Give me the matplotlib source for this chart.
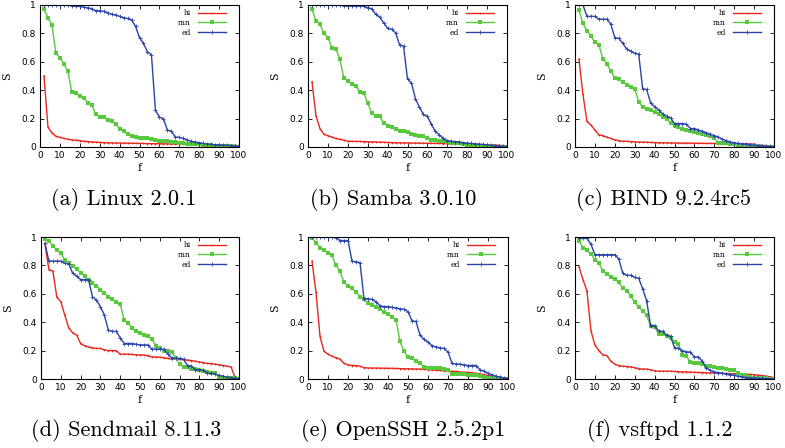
import numpy as np
import matplotlib.pyplot as plt

f = list(range(2, 101, 2))

linux_hi = [0.50, 0.14, 0.10, 0.075, 0.068, 0.06, 0.055, 0.05, 0.048, 0.045,
            0.04, 0.038, 0.036, 0.034, 0.032, 0.03, 0.03, 0.029, 0.028, 0.028,
            0.027, 0.027, 0.026, 0.026, 0.025, 0.025, 0.024, 0.024, 0.023, 0.023,
            0.022, 0.022, 0.021, 0.021, 0.02, 0.02, 0.019, 0.019, 0.018, 0.018,
            0.017, 0.017, 0.016, 0.016, 0.015, 0.015, 0.014, 0.013, 0.012, 0.01]
linux_ran = [0.97, 0.91, 0.86, 0.66, 0.63, 0.585, 0.535, 0.385, 0.38, 0.36,
             0.345, 0.31, 0.295, 0.23, 0.21, 0.21, 0.19, 0.18, 0.16, 0.13,
             0.11, 0.09, 0.075, 0.07, 0.065, 0.065, 0.06, 0.055, 0.05, 0.045,
             0.042, 0.04, 0.036, 0.033, 0.03, 0.027, 0.024, 0.022, 0.02, 0.018,
             0.016, 0.014, 0.012, 0.01, 0.009, 0.008, 0.006, 0.004, 0.002, 0.0]
linux_ed = [1.0, 1.0, 1.0, 1.0, 1.0, 1.0, 1.0, 0.995, 0.99, 0.99,
            0.985, 0.98, 0.975, 0.96, 0.96, 0.955, 0.945, 0.935, 0.93, 0.92,
            0.91, 0.905, 0.895, 0.85, 0.77, 0.73, 0.67, 0.65, 0.26, 0.21,
            0.20, 0.12, 0.11, 0.07, 0.068, 0.06, 0.05, 0.04, 0.035, 0.03,
            0.025, 0.02, 0.018, 0.016, 0.015, 0.014, 0.012, 0.01, 0.008, 0.005]

samba_hi = [0.46, 0.22, 0.13, 0.09, 0.08, 0.07, 0.06, 0.055, 0.048, 0.04,
            0.04, 0.04, 0.039, 0.038, 0.037, 0.036, 0.035, 0.034, 0.033, 0.032,
            0.031, 0.03, 0.03, 0.029, 0.029, 0.028, 0.028, 0.027, 0.027, 0.026,
            0.026, 0.025, 0.025, 0.024, 0.024, 0.023, 0.022, 0.022, 0.021, 0.02,
            0.02, 0.019, 0.018, 0.017, 0.016, 0.015, 0.014, 0.012, 0.01, 0.008]
samba_ran = [0.97, 0.89, 0.865, 0.80, 0.77, 0.70, 0.69, 0.62, 0.485, 0.465,
             0.445, 0.43, 0.39, 0.38, 0.31, 0.24, 0.22, 0.215, 0.17, 0.15,
             0.14, 0.13, 0.115, 0.115, 0.105, 0.095, 0.085, 0.08, 0.075, 0.06,
             0.05, 0.05, 0.045, 0.04, 0.035, 0.03, 0.028, 0.025, 0.02, 0.015,
             0.012, 0.01, 0.008, 0.006, 0.005, 0.004, 0.003, 0.002, 0.001, 0.0]
samba_ed = [1.0, 1.0, 1.0, 1.0, 1.0, 1.0, 1.0, 1.0, 0.995, 0.995,
            0.995, 0.995, 0.995, 0.99, 0.98, 0.975, 0.935, 0.915, 0.875, 0.835,
            0.83, 0.805, 0.72, 0.71, 0.48, 0.45, 0.34, 0.28, 0.23, 0.215,
            0.16, 0.11, 0.085, 0.06, 0.045, 0.04, 0.038, 0.035, 0.03, 0.027,
            0.025, 0.022, 0.02, 0.018, 0.015, 0.012, 0.01, 0.008, 0.005, 0.003]

bind_hi = [0.62, 0.37, 0.18, 0.155, 0.12, 0.085, 0.08, 0.07, 0.06, 0.05,
           0.045, 0.04, 0.04, 0.038, 0.036, 0.035, 0.034, 0.033, 0.032, 0.031,
           0.03, 0.03, 0.029, 0.029, 0.028, 0.028, 0.027, 0.027, 0.027, 0.026,
           0.026, 0.026, 0.025, 0.025, 0.025, 0.024, 0.024, 0.024, 0.023, 0.023,
           0.023, 0.022, 0.022, 0.022, 0.02, 0.015, 0.012, 0.01, 0.008, 0.006]
bind_ran = [0.965, 0.87, 0.82, 0.78, 0.74, 0.72, 0.62, 0.585, 0.535, 0.485,
            0.48, 0.455, 0.44, 0.425, 0.41, 0.32, 0.28, 0.27, 0.26, 0.245,
            0.235, 0.21, 0.2, 0.17, 0.15, 0.14, 0.125, 0.118, 0.115, 0.108,
            0.1, 0.095, 0.088, 0.077, 0.063, 0.03, 0.028, 0.026, 0.024, 0.02,
            0.015, 0.01, 0.008, 0.006, 0.005, 0.004, 0.003, 0.002, 0.001, 0.0]
bind_ed = [1.0, 1.0, 0.92, 0.92, 0.92, 0.90, 0.90, 0.90, 0.865, 0.77,
           0.765, 0.73, 0.69, 0.675, 0.66, 0.655, 0.41, 0.405, 0.31, 0.285,
           0.26, 0.235, 0.215, 0.205, 0.165, 0.165, 0.165, 0.16, 0.13, 0.13,
           0.12, 0.11, 0.1, 0.09, 0.08, 0.07, 0.055, 0.045, 0.035, 0.03,
           0.025, 0.022, 0.02, 0.015, 0.012, 0.01, 0.008, 0.006, 0.004, 0.002]

sendmail_hi = [0.95, 0.77, 0.76, 0.575, 0.545, 0.45, 0.36, 0.325, 0.31, 0.25,
               0.235, 0.225, 0.22, 0.215, 0.215, 0.205, 0.2, 0.2, 0.2, 0.175,
               0.175, 0.175, 0.173, 0.17, 0.17, 0.168, 0.165, 0.155, 0.155, 0.153,
               0.15, 0.145, 0.14, 0.14, 0.138, 0.135, 0.133, 0.13, 0.125, 0.12,
               0.115, 0.11, 0.108, 0.105, 0.1, 0.095, 0.09, 0.085, 0.01, 0.005]
sendmail_ran = [0.985, 0.975, 0.935, 0.91, 0.885, 0.84, 0.82, 0.795, 0.775, 0.75,
                0.725, 0.70, 0.675, 0.655, 0.63, 0.605, 0.58, 0.56, 0.545, 0.53,
                0.415, 0.395, 0.36, 0.34, 0.325, 0.31, 0.30, 0.28, 0.235, 0.215,
                0.2, 0.2, 0.19, 0.15, 0.105, 0.085, 0.085, 0.07, 0.07, 0.065,
                0.055, 0.05, 0.045, 0.04, 0.01, 0.01, 0.01, 0.008, 0.005, 0.0]
sendmail_ed = [0.955, 0.83, 0.83, 0.83, 0.83, 0.815, 0.81, 0.745, 0.725, 0.70,
               0.70, 0.70, 0.58, 0.555, 0.51, 0.45, 0.345, 0.335, 0.335, 0.29,
               0.25, 0.25, 0.25, 0.245, 0.24, 0.24, 0.24, 0.21, 0.21, 0.21,
               0.21, 0.175, 0.15, 0.145, 0.145, 0.14, 0.095, 0.09, 0.065, 0.065,
               0.06, 0.04, 0.04, 0.035, 0.025, 0.02, 0.012, 0.01, 0.005, 0.003]

openssh_hi = [0.83, 0.61, 0.30, 0.195, 0.175, 0.16, 0.15, 0.14, 0.11, 0.10,
              0.095, 0.095, 0.09, 0.08, 0.078, 0.077, 0.077, 0.076, 0.076, 0.075,
              0.075, 0.074, 0.073, 0.072, 0.072, 0.071, 0.07, 0.07, 0.068, 0.066,
              0.064, 0.062, 0.06, 0.058, 0.056, 0.054, 0.053, 0.05, 0.048, 0.046,
              0.044, 0.04, 0.035, 0.03, 0.025, 0.02, 0.016, 0.012, 0.008, 0.005]
openssh_ran = [0.995, 0.96, 0.925, 0.905, 0.885, 0.87, 0.80, 0.76, 0.68, 0.655,
               0.64, 0.61, 0.58, 0.56, 0.535, 0.52, 0.505, 0.495, 0.475, 0.455,
               0.435, 0.415, 0.265, 0.195, 0.155, 0.145, 0.125, 0.115, 0.085, 0.08,
               0.08, 0.08, 0.075, 0.07, 0.065, 0.035, 0.035, 0.035, 0.035, 0.03,
               0.025, 0.025, 0.02, 0.015, 0.01, 0.008, 0.006, 0.004, 0.002, 0.0]
openssh_ed = [1.0, 1.0, 1.0, 1.0, 1.0, 1.0, 0.995, 0.975, 0.975, 0.975,
              0.83, 0.825, 0.82, 0.565, 0.565, 0.56, 0.545, 0.515, 0.51, 0.51,
              0.505, 0.5, 0.495, 0.49, 0.475, 0.41, 0.405, 0.31, 0.28, 0.26,
              0.235, 0.225, 0.22, 0.215, 0.19, 0.11, 0.105, 0.105, 0.1, 0.095,
              0.095, 0.095, 0.065, 0.055, 0.04, 0.03, 0.02, 0.013, 0.008, 0.003]

vsftpd_hi = [0.79, 0.70, 0.62, 0.34, 0.24, 0.20, 0.17, 0.165, 0.125, 0.105,
             0.095, 0.09, 0.088, 0.085, 0.08, 0.072, 0.07, 0.07, 0.065, 0.058,
             0.055, 0.055, 0.055, 0.055, 0.053, 0.052, 0.05, 0.05, 0.048, 0.047,
             0.046, 0.045, 0.044, 0.043, 0.042, 0.041, 0.04, 0.039, 0.038, 0.037,
             0.036, 0.035, 0.033, 0.032, 0.03, 0.027, 0.024, 0.02, 0.015, 0.01]
vsftpd_ran = [0.975, 0.925, 0.905, 0.88, 0.84, 0.815, 0.76, 0.74, 0.72, 0.705,
              0.68, 0.64, 0.62, 0.585, 0.54, 0.51, 0.48, 0.45, 0.37, 0.365,
              0.32, 0.315, 0.305, 0.29, 0.26, 0.245, 0.17, 0.16, 0.12, 0.115,
              0.115, 0.105, 0.095, 0.09, 0.085, 0.08, 0.075, 0.07, 0.065, 0.06,
              0.04, 0.03, 0.025, 0.012, 0.01, 0.008, 0.006, 0.004, 0.002, 0.0]
vsftpd_ed = [0.99, 0.99, 0.99, 0.95, 0.875, 0.875, 0.875, 0.875, 0.875, 0.875,
             0.845, 0.745, 0.73, 0.73, 0.715, 0.71, 0.635, 0.55, 0.375, 0.375,
             0.34, 0.335, 0.31, 0.30, 0.22, 0.215, 0.20, 0.19, 0.19, 0.155,
             0.155, 0.125, 0.08, 0.06, 0.05, 0.045, 0.04, 0.035, 0.03, 0.025,
             0.02, 0.015, 0.01, 0.008, 0.006, 0.005, 0.004, 0.003, 0.002, 0.001]

captions = ["(a) Linux 2.0.1", "(b) Samba 3.0.10", "(c) BIND 9.2.4rc5",
            "(d) Sendmail 8.11.3", "(e) OpenSSH 2.5.2p1", "(f) vsftpd 1.1.2"]
panels = [(linux_hi, linux_ran, linux_ed), (samba_hi, samba_ran, samba_ed),
          (bind_hi, bind_ran, bind_ed), (sendmail_hi, sendmail_ran, sendmail_ed),
          (openssh_hi, openssh_ran, openssh_ed), (vsftpd_hi, vsftpd_ran, vsftpd_ed)]

W, H = 785, 448
fig = plt.figure(figsize=(W / 100, H / 100), dpi=100)

# pixel boxes (left, right, top, bottom)
boxes = [(40, 239, 5, 147), (308, 507, 5, 147), (575, 774, 5, 147),
         (41, 239, 237, 379), (308, 508, 237, 379), (575, 774, 237, 379)]
cap_x = [124, 393, 664, 126, 403, 660]
cap_y = [199, 199, 199, 430, 430, 430]

red = '#e8281e'
green = '#58c83c'
blue = '#2a44a8'

for i, (l, r, t, b) in enumerate(boxes):
    ax = fig.add_axes([l / W, 1 - b / H, (r - l) / W, (b - t) / H])
    hi, ran, ed = panels[i]
    ax.plot(f, hi, color=red, lw=1, marker='+', ms=2, mew=0.5, label='hi')
    ax.plot(f, ran, color=green, lw=1, marker='s', ms=3, mew=0, label='ran')
    ax.plot(f, ed, color=blue, lw=1, marker='+', ms=2.5, mew=0.6, label='ed')
    ax.set_xlim(0, 100)
    ax.set_ylim(0, 1)
    ax.set_xticks(range(0, 101, 10))
    ax.set_yticks([0, 0.2, 0.4, 0.6, 0.8, 1])
    ax.set_yticklabels(['0', '0.2', '0.4', '0.6', '0.8', '1'])
    ax.tick_params(direction='in', top=True, right=True, length=3, width=0.6,
                   labelsize=6.5, pad=3)
    for s in ax.spines.values():
        s.set_linewidth(0.8)
    ax.set_xlabel('f', family='DejaVu Serif', fontsize=8, labelpad=2)
    ax.set_ylabel('S', family='DejaVu Serif', fontsize=8, labelpad=7)
    ax.legend(loc='upper right', frameon=False, markerfirst=False,
              prop={'family': 'DejaVu Serif', 'size': 5.5}, handlelength=3.6,
              labelspacing=0.25, borderaxespad=0.25, borderpad=0.3,
              handletextpad=1.0, bbox_to_anchor=(0.955, 1.0))
    fig.text(cap_x[i] / W, 1 - cap_y[i] / H, captions[i], family='cmr10',
             fontsize=16, ha='center', va='center')

fig.savefig('out.png', dpi=100)
